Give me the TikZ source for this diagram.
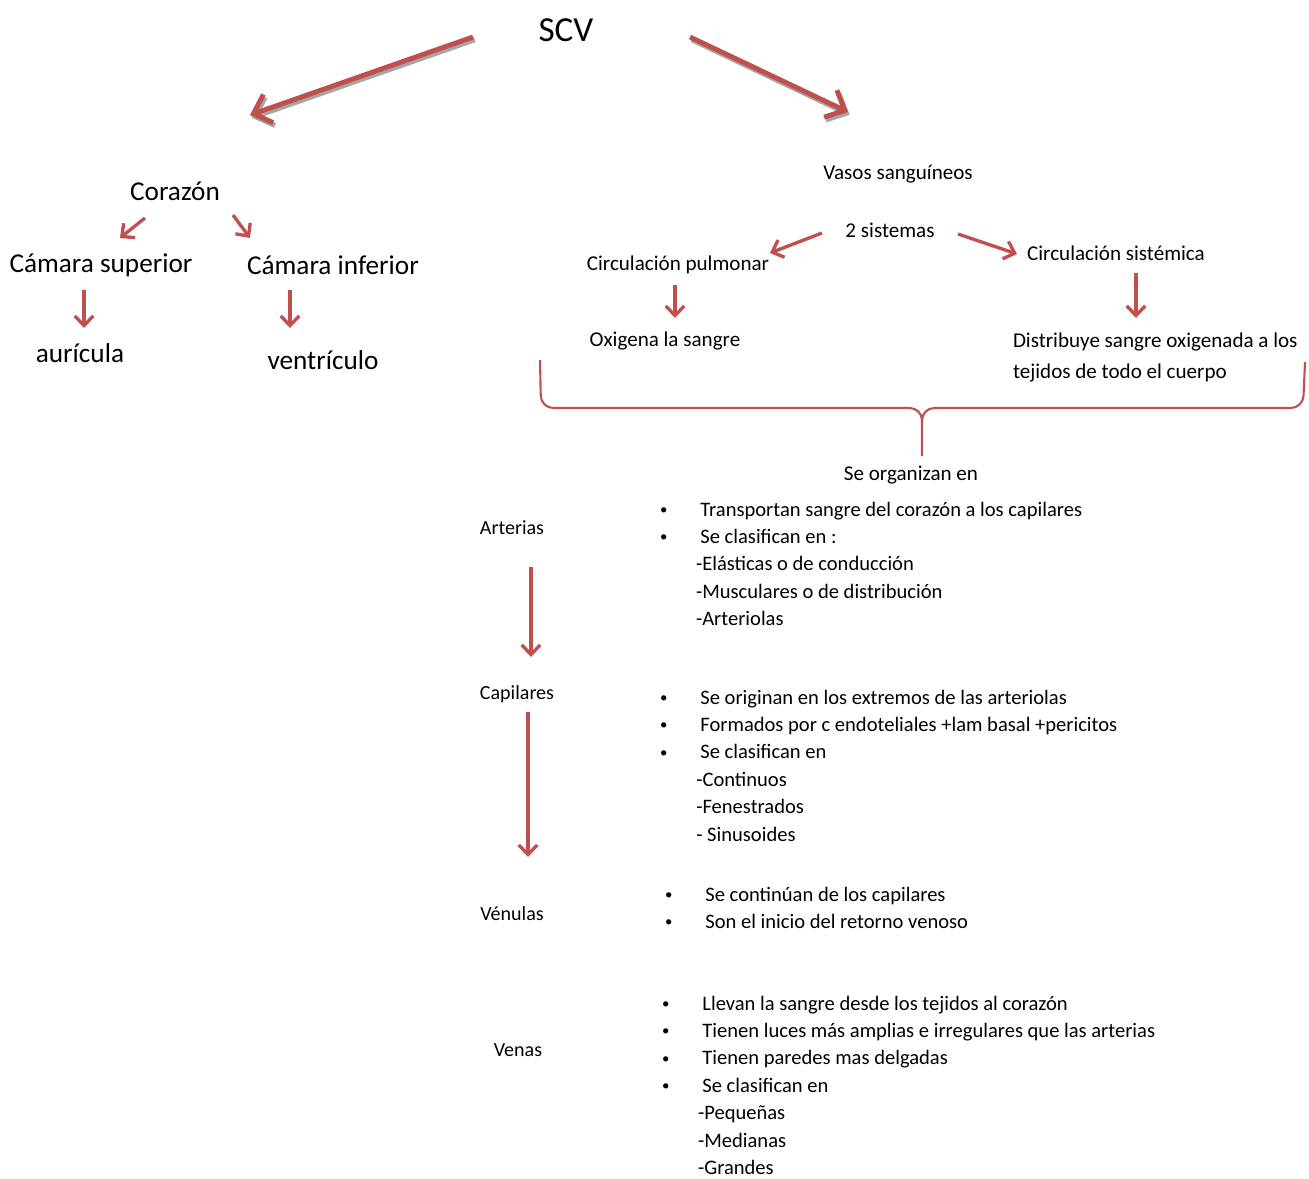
\documentclass[tikz,border=0pt]{standalone}
\usepackage{fontspec}
\usepackage{graphicx}
\setmainfont{Carlito}
\usetikzlibrary{arrows.meta}

\definecolor{scvred}{RGB}{192,80,77}

\tikzstyle{element}=[inner sep=0, outer sep=0]
\tikzstyle{title}=[element, font=\fontsize{20}{24}\selectfont]
\tikzstyle{heart}=[element, font=\fontsize{15.5}{19}\selectfont]
\tikzstyle{vessel}=[element, font=\fontsize{12}{17}\selectfont]
\tikzstyle{kind}=[element, font=\fontsize{11.4}{15.6}\selectfont]
\tikzstyle{list}=[element, anchor=base west, font=\fontsize{11.7}{15.6}\selectfont]

\tikzstyle{bigarrow}=[draw=scvred, line width=2.8pt,
                      -{Straight Barb[length=9pt, width=17pt]}]
\tikzstyle{bigshadow}=[bigarrow, draw=gray!70,
                       transform canvas={shift={(1pt,-1.6pt)}}]
\tikzstyle{smallarrow}=[draw=scvred, line width=1.9pt,
                        -{Straight Barb[length=5.5pt, width=10.5pt]}]
\tikzstyle{brace}=[draw=scvred, line width=1.2pt, rounded corners=7pt]

\newcommand{\blt}{\makebox[23pt][l]{\raisebox{1pt}{\scalebox{0.72}{\textbullet}}}}
\newcommand{\subl}[1][20.5pt]{\hspace*{#1}}

\begin{document}
\begin{tikzpicture}[x=0.02cm, y=-0.02cm]
  \useasboundingbox (0, 0) rectangle (1309, 1178);

  %%%%%%%%%%%%%%%%%%%%%%%%%%%%%%
  %%%%%%%%%%%%%%%%%%%%%%%%%%%%%%
  % map

  %%%%%%%%%%%%%%%%%%%%%%%%%%%%%%
  % nodes
  \node (scv) at (566, 30) [title] {SCV};
  \coordinate (tip_l) at (250, 115);
  \coordinate (tip_r) at (848, 112);

  % heart
  \node (corazon) at (175, 191) [heart] {Corazón};
  \node (cam_sup) at (101, 265) [heart] {Cámara superior};
  \node (cam_inf) at (333, 265) [heart] {Cámara inferior};
  \node (auricula) at (80, 353) [heart] {aurícula};
  \node (ventriculo) at (323, 360) [heart] {ventrículo};

  % vessels
  \node (vasos) at (898, 174) [vessel] {Vasos sanguíneos};
  \node (sistemas) at (890, 230) [vessel] {2 sistemas};
  \node (pulmonar) at (678, 265) [vessel] {Circulación pulmonar};
  \node (sistemica) at (1116, 253) [vessel] {Circulación sistémica};
  \node (oxigena) at (665, 341) [vessel] {Oxigena la sangre};
  \node (distrib) at (1013, 347) [vessel, anchor=base west]
    {\begin{tabular}[t]{@{}l@{}}Distribuye sangre oxigenada a los\\[0.8pt]
     tejidos de todo el cuerpo\end{tabular}};
  \node (organizan) at (911, 475) [vessel] {Se organizan en};

  % kinds
  \node (arterias) at (512, 528) [kind] {Arterias};
  \node (capilares) at (517, 694) [kind] {Capilares};
  \node (venulas) at (512, 914) [kind] {Vénulas};
  \node (venas) at (518, 1050) [kind] {Venas};

  %%%%%%%%%%%%%%%%%%%%%%%%%%%%%%
  % lists
  \node (arterias_list) at (660, 516) [list] {\begin{tabular}[t]{@{}l@{}}
    \blt Transportan sangre del corazón a los capilares\\
    \blt Se clasifican en :\\
    \subl -Elásticas o de conducción\\
    \subl -Musculares o de distribución\\
    \subl -Arteriolas
  \end{tabular}};

  \node (capilares_list) at (660, 704) [list] {\begin{tabular}[t]{@{}l@{}}
    \blt Se originan en los extremos de las arteriolas\\
    \blt Formados por c endoteliales +lam basal +pericitos\\
    \blt Se clasifican en\\
    \subl[18pt] -Continuos\\
    \subl[18pt] -Fenestrados\\
    \subl[18pt] - Sinusoides
  \end{tabular}};

  \node (venulas_list) at (665, 901) [list] {\begin{tabular}[t]{@{}l@{}}
    \blt Se continúan de los capilares\\
    \blt Son el inicio del retorno venoso
  \end{tabular}};

  \node (venas_list) at (662, 1010) [list] {\begin{tabular}[t]{@{}l@{}}
    \blt Llevan la sangre desde los tejidos al corazón\\
    \blt Tienen luces más amplias e irregulares que las arterias\\
    \blt Tienen paredes mas delgadas\\
    \blt Se clasifican en\\
    \subl -Pequeñas\\
    \subl -Medianas\\
    \subl -Grandes
  \end{tabular}};

  %%%%%%%%%%%%%%%%%%%%%%%%%%%%%%
  % links
  \draw [bigshadow] ([shift={(-93, 7)}]scv.center) to (tip_l);
  \draw [bigshadow] ([shift={(124, 7)}]scv.center) to (tip_r);
  \draw [bigarrow] ([shift={(-93, 7)}]scv.center) to (tip_l);
  \draw [bigarrow] ([shift={(124, 7)}]scv.center) to (tip_r);

  % heart
  \draw [smallarrow] ([shift={(-30, 27)}]corazon.center) to ([shift={(19, -27)}]cam_sup.center);
  \draw [smallarrow] ([shift={(58, 24)}]corazon.center) to ([shift={(-83, -27)}]cam_inf.center);
  \draw [smallarrow] ([shift={(-17, 25)}]cam_sup.center) to ([shift={(4, -25)}]auricula.center);
  \draw [smallarrow] ([shift={(-43, 25)}]cam_inf.center) to ([shift={(-33, -32)}]ventriculo.center);

  % vessels
  \draw [smallarrow] ([shift={(-68, 3)}]sistemas.center) to ([shift={(92, -12)}]pulmonar.center);
  \draw [smallarrow] ([shift={(68, 4)}]sistemas.center) to ([shift={(-99, 1)}]sistemica.center);
  \draw [smallarrow] ([shift={(-3, 20)}]pulmonar.center) to ([shift={(10, -23)}]oxigena.center);
  \draw [smallarrow] ([shift={(20, 20)}]sistemica.center) to ([shift={(123, -29)}]distrib.base west);

  % brace
  \draw [brace] (540, 360) -- (541, 408) -- (922, 408) -- (922, 456);
  \draw [brace] (922, 420) -- (922, 408) -- (1303, 408) -- (1305, 362);

  % kinds
  \draw [smallarrow] ([shift={(19, 39)}]arterias.center) to ([shift={(14, -37)}]capilares.center);
  \draw [smallarrow] ([shift={(11, 18)}]capilares.center) to ([shift={(16, -57)}]venulas.center);

\end{tikzpicture}
\end{document}
